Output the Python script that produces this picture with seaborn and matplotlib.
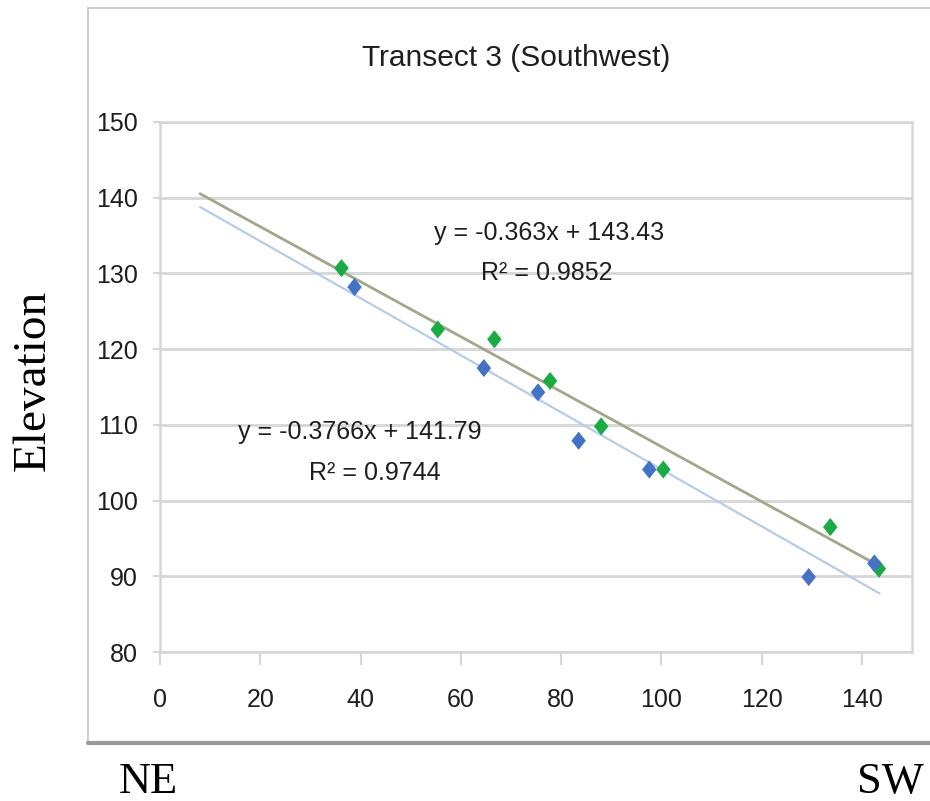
import matplotlib
matplotlib.use("Agg")
import matplotlib.pyplot as plt
import seaborn as sns
import numpy as np
import pandas as pd
from matplotlib.lines import Line2D

# ---- data ----
green_x = [36.2, 55.4, 66.7, 77.8, 88.0, 100.4, 133.7, 143.4]
green_y = [130.7, 122.6, 121.3, 115.8, 109.8, 104.1, 96.5, 91.0]
blue_x = [38.8, 64.6, 75.4, 83.5, 97.6, 129.4, 142.5]
blue_y = [128.2, 117.5, 114.3, 107.9, 104.1, 89.9, 91.7]

green_fit = (-0.363, 143.43)
blue_fit = (-0.3766, 141.79)
fit_range = [8, 143.5]

green_eq = "y = -0.363x + 143.43"
green_r2 = "R² = 0.9852"
blue_eq = "y = -0.3766x + 141.79"
blue_r2 = "R² = 0.9744"

title = "Transect 3 (Southwest)"
x_ticks = [0, 20, 40, 60, 80, 100, 120, 140]
y_ticks = [80, 90, 100, 110, 120, 130, 140, 150]

sns.set_theme(style="white")
SANS = ['Liberation Sans', 'DejaVu Sans']
SERIF = ['Liberation Serif', 'DejaVu Serif']
plt.rcParams['font.family'] = SANS

df = pd.DataFrame({
    "x": green_x + blue_x,
    "y": green_y + blue_y,
    "series": ["green"] * len(green_x) + ["blue"] * len(blue_x),
})
palette = {"green": "#1aab44", "blue": "#4472c4"}

fig = plt.figure(figsize=(9.3, 8.01), dpi=100)
W, H = 930, 801
ax = fig.add_axes([160 / W, (H - 652) / H, (912 - 160) / W, (652 - 122) / H])

# trendlines
xs = np.array(fit_range)
ax.plot(xs, green_fit[0] * xs + green_fit[1], color="#a4a68c", lw=2.0, zorder=2)
ax.plot(xs, blue_fit[0] * xs + blue_fit[1], color="#b8cbe9", lw=1.6, zorder=2)

diamond = [(0, 1), (0.8, 0), (0, -1), (-0.8, 0), (0, 1)]
sns.scatterplot(data=df, x="x", y="y", hue="series", palette=palette,
                marker=diamond, s=170, linewidth=0, legend=False, ax=ax, zorder=3)

ax.set_xlim(0, 150)
ax.set_ylim(80, 150)
ax.set_xticks(x_ticks)
ax.set_yticks(y_ticks)
ax.set_xticklabels([str(t) for t in x_ticks])
ax.set_yticklabels([str(t) for t in y_ticks])
ax.set_xlabel("")
ax.set_ylabel("")

gray = "#d6d6d6"
txt = "#1e1e1e"
ax.yaxis.grid(True, color=gray, lw=2.0)
ax.xaxis.grid(False)
for s in ax.spines.values():
    s.set_visible(True)
    s.set_color(gray)
    s.set_linewidth(1.8)
ax.tick_params(axis="y", which="major", direction="out", length=5, width=1.5,
               color=gray, pad=11, labelsize=18, labelcolor=txt, left=True)
ax.tick_params(axis="x", which="major", direction="out", length=9, width=1.5,
               color=gray, pad=17, labelsize=18, labelcolor=txt, bottom=True)

# trendline labels
fs = 18
ax.text(77.6, 135.4, green_eq, ha="center", va="center", fontsize=fs, color=txt)
ax.text(77.2, 130.0, green_r2, ha="center", va="center", fontsize=fs, color=txt)
ax.text(39.9, 109.0, blue_eq, ha="center", va="center", fontsize=fs, color=txt)
ax.text(42.9, 103.7, blue_r2, ha="center", va="center", fontsize=fs, color=txt)

# title
fig.text(516 / W, (H - 58) / H, title, ha="center", va="center", fontsize=21.5, color=txt)

# outer frame
fig.add_artist(Line2D([88 / W, 88 / W], [(H - 8) / H, (H - 743) / H], transform=fig.transFigure,
                      color="#c4c4c4", lw=1.2))
fig.add_artist(Line2D([88 / W, 1.0], [(H - 8) / H, (H - 8) / H], transform=fig.transFigure,
                      color="#c4c4c4", lw=1.2))
fig.add_artist(Line2D([88 / W, 1.0], [(H - 743) / H, (H - 743) / H], transform=fig.transFigure,
                      color="#9a9a9a", lw=3))

# outer labels
fig.text(33 / W, (H - 380) / H, "Elevation", rotation=90, ha="center", va="center",
         fontsize=34, family=SERIF, color="black")
fig.text(148 / W, (H - 782) / H, "NE", ha="center", va="center", fontsize=32,
         family=SERIF, color="black")
fig.text(890 / W, (H - 782) / H, "SW", ha="center", va="center", fontsize=32,
         family=SERIF, color="black")

fig.savefig("out.png", dpi=100)
